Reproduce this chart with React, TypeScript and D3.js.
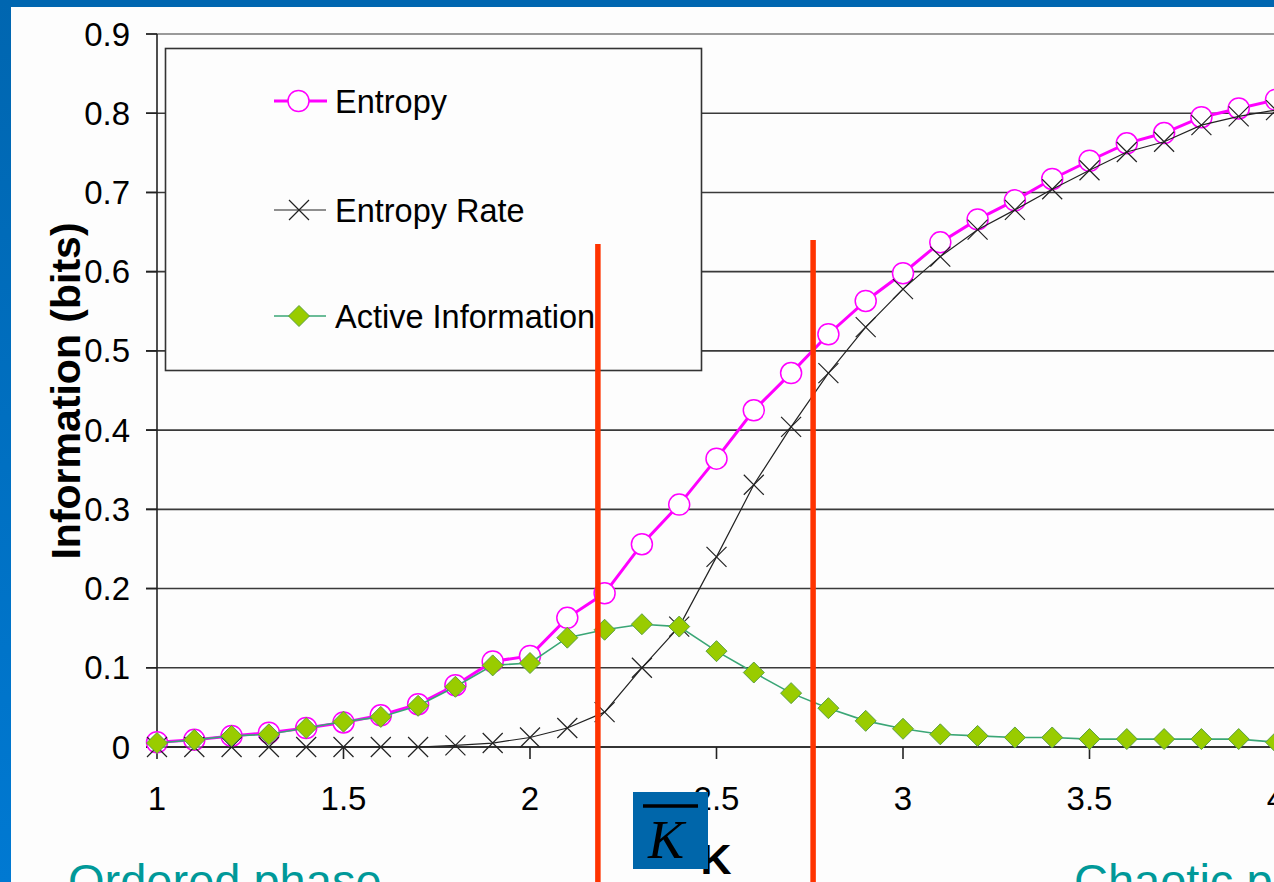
import React from "react";
import * as d3 from "d3";

const kValues = [1.0, 1.1, 1.2, 1.3, 1.4, 1.5, 1.6, 1.7, 1.8, 1.9, 2.0, 2.1, 2.2, 2.3, 2.4, 2.5, 2.6, 2.7, 2.8, 2.9, 3.0, 3.1, 3.2, 3.3, 3.4, 3.5, 3.6, 3.7, 3.8, 3.9, 4.0];
const entropy = [0.006, 0.009, 0.014, 0.018, 0.024, 0.031, 0.040, 0.054, 0.078, 0.108, 0.115, 0.163, 0.194, 0.256, 0.306, 0.364, 0.425, 0.472, 0.521, 0.563, 0.598, 0.637, 0.666, 0.690, 0.717, 0.740, 0.762, 0.775, 0.795, 0.806, 0.817];
const entropyRate = [0, 0, 0, 0, 0, 0, 0, 0, 0.002, 0.005, 0.012, 0.024, 0.044, 0.100, 0.152, 0.240, 0.331, 0.404, 0.472, 0.530, 0.578, 0.619, 0.653, 0.678, 0.704, 0.728, 0.751, 0.764, 0.785, 0.796, 0.804];
const activeInfo = [0.005, 0.009, 0.014, 0.016, 0.024, 0.032, 0.038, 0.052, 0.076, 0.103, 0.106, 0.138, 0.148, 0.155, 0.152, 0.121, 0.094, 0.068, 0.049, 0.033, 0.023, 0.016, 0.014, 0.012, 0.012, 0.010, 0.010, 0.010, 0.010, 0.010, 0.006];
const yTicks = [0, 0.1, 0.2, 0.3, 0.4, 0.5, 0.6, 0.7, 0.8, 0.9];
const yTickLabels = ["0", "0.1", "0.2", "0.3", "0.4", "0.5", "0.6", "0.7", "0.8", "0.9"];
const xTicks = [1, 1.5, 2, 2.5, 3, 3.5, 4];
const xTickLabels = ["1", "1.5", "2", "2.5", "3", "3.5", "4"];
const redLinesK = [2.182, 2.759];
const legendLabels = ["Entropy", "Entropy Rate", "Active Information"];

const W = 1274;
const H = 882;
const FONT = "'Liberation Sans', Arial, sans-serif";

export default function App() {
  const x = d3.scaleLinear().domain([1, 4]).range([157, 1276]);
  const y = d3.scaleLinear().domain([0, 0.9]).range([747, 34]);
  const line = (vals: number[]) =>
    d3.line<number>().x((_, i) => x(kValues[i])).y((v) => y(v))(vals) || "";

  const MAG = "#ff00ff";
  const GREEN_LINE = "#3aa676";
  const GREEN_FILL = "#99cc00";
  const RED = "#ff3300";

  const cross = (cx: number, cy: number, s: number, key: string) => (
    <path key={key} d={`M${cx - s},${cy - s}L${cx + s},${cy + s}M${cx - s},${cy + s}L${cx + s},${cy - s}`} stroke="#222" strokeWidth={1.2} fill="none" />
  );
  const diamond = (cx: number, cy: number, s: number, key: string) => (
    <path key={key} d={`M${cx},${cy - s}L${cx + s},${cy}L${cx},${cy + s}L${cx - s},${cy}Z`} fill={GREEN_FILL} stroke="#5aa040" strokeWidth={1} />
  );

  const legendY = [101, 210, 316];

  return (
    <svg width={W} height={H} style={{ position: "fixed", left: 0, top: 0 }} fontFamily={FONT}>
      <defs>
        <linearGradient id="leftbar" x1="0" y1="0" x2="0" y2="1">
          <stop offset="0" stopColor="#0066b0" />
          <stop offset="1" stopColor="#0079d2" />
        </linearGradient>
      </defs>
      <rect x={0} y={0} width={W} height={H} fill="#fdfdfd" />
      <rect x={0} y={0} width={W} height={7} fill="#0066b0" />
      <rect x={0} y={0} width={11} height={H} fill="url(#leftbar)" />

      {/* gridlines */}
      {yTicks.map((t, i) => (
        <line key={"g" + i} x1={146} x2={1276} y1={y(t)} y2={y(t)} stroke={t === 0.9 ? "#9a9a9a" : "#3a3a3a"} strokeWidth={t === 0.9 ? 2 : 1.6} />
      ))}
      {yTicks.map((t, i) => (
        <line key={"yt" + i} x1={146} x2={157} y1={y(t)} y2={y(t)} stroke="#222" strokeWidth={1.6} />
      ))}
      <line x1={157} x2={157} y1={y(0.9)} y2={y(0)} stroke="#222" strokeWidth={1.6} />
      <line x1={146} x2={1276} y1={y(0)} y2={y(0)} stroke="#222" strokeWidth={1.6} />
      {xTicks.map((t, i) => (
        <line key={"xt" + i} x1={x(t)} x2={x(t)} y1={y(0)} y2={y(0) + 12} stroke="#222" strokeWidth={1.6} />
      ))}

      {/* tick labels */}
      {yTicks.map((t, i) => (
        <text key={"yl" + i} x={130} y={y(t) + 11.5} textAnchor="end" fontSize={33} fill="#000">{yTickLabels[i]}</text>
      ))}
      {xTicks.map((t, i) => (
        <text key={"xl" + i} x={x(t)} y={810} textAnchor="middle" fontSize={33} fill="#000">{xTickLabels[i]}</text>
      ))}

      {/* axis titles */}
      <text transform="translate(80,391) rotate(-90)" textAnchor="middle" fontSize={41} fontWeight="bold" fill="#000">Information (bits)</text>
      <text x={716} y={874} textAnchor="middle" fontSize={43} fontWeight="bold" fill="#000">K</text>

      {/* legend box */}
      <rect x={165.5} y={48.5} width={536} height={322} fill="#fdfdfd" stroke="#333" strokeWidth={1.6} />

      {/* Entropy series */}
      <path d={line(entropy)} fill="none" stroke={MAG} strokeWidth={3} />
      {entropy.map((v, i) => (
        <circle key={"c" + i} cx={x(kValues[i])} cy={y(v)} r={10.5} fill="#fff" stroke={MAG} strokeWidth={1.5} />
      ))}

      {/* Entropy rate series */}
      <path d={line(entropyRate)} fill="none" stroke="#222" strokeWidth={1.2} />
      {entropyRate.map((v, i) => cross(x(kValues[i]), y(v), 10, "x" + i))}

      {/* Active information */}
      <path d={line(activeInfo)} fill="none" stroke={GREEN_LINE} strokeWidth={1.6} />
      {activeInfo.map((v, i) => diamond(x(kValues[i]), y(v), 10.5, "d" + i))}

      {/* legend entries */}
      <line x1={274} x2={327} y1={legendY[0]} y2={legendY[0]} stroke={MAG} strokeWidth={3} />
      <circle cx={298.5} cy={legendY[0]} r={10.5} fill="#fff" stroke={MAG} strokeWidth={1.5} />
      <line x1={274} x2={326} y1={legendY[1]} y2={legendY[1]} stroke="#222" strokeWidth={1.2} />
      {cross(299, legendY[1], 10, "lx")}
      <line x1={274} x2={326} y1={legendY[2]} y2={legendY[2]} stroke={GREEN_LINE} strokeWidth={1.6} />
      {diamond(299, legendY[2], 10.5, "ld")}
      {legendLabels.map((l, i) => (
        <text key={"lt" + i} x={335} y={legendY[i] + 11.5} fontSize={32.5} fill="#000">{l}</text>
      ))}

      {/* red phase lines */}
      <line x1={x(redLinesK[0])} x2={x(redLinesK[0])} y1={244} y2={H} stroke={RED} strokeWidth={5.5} />
      <line x1={x(redLinesK[1])} x2={x(redLinesK[1])} y1={240} y2={H} stroke={RED} strokeWidth={5.5} />

      {/* K-bar box */}
      <rect x={633} y={792} width={75} height={77} fill="#0066aa" />
      <line x1={643} x2={698} y1={806} y2={806} stroke="#000" strokeWidth={3.5} />
      <text x={666} y={858} textAnchor="middle" fontSize={54} fontStyle="italic" fontFamily="'Liberation Serif', 'Times New Roman', serif" fill="#000">K</text>

      {/* phase labels */}
      <text x={68} y={897} fontSize={47} fill="#009999">Ordered phase</text>
      <text x={1074} y={897} fontSize={47} fill="#009999">Chaotic phase</text>
    </svg>
  );
}
